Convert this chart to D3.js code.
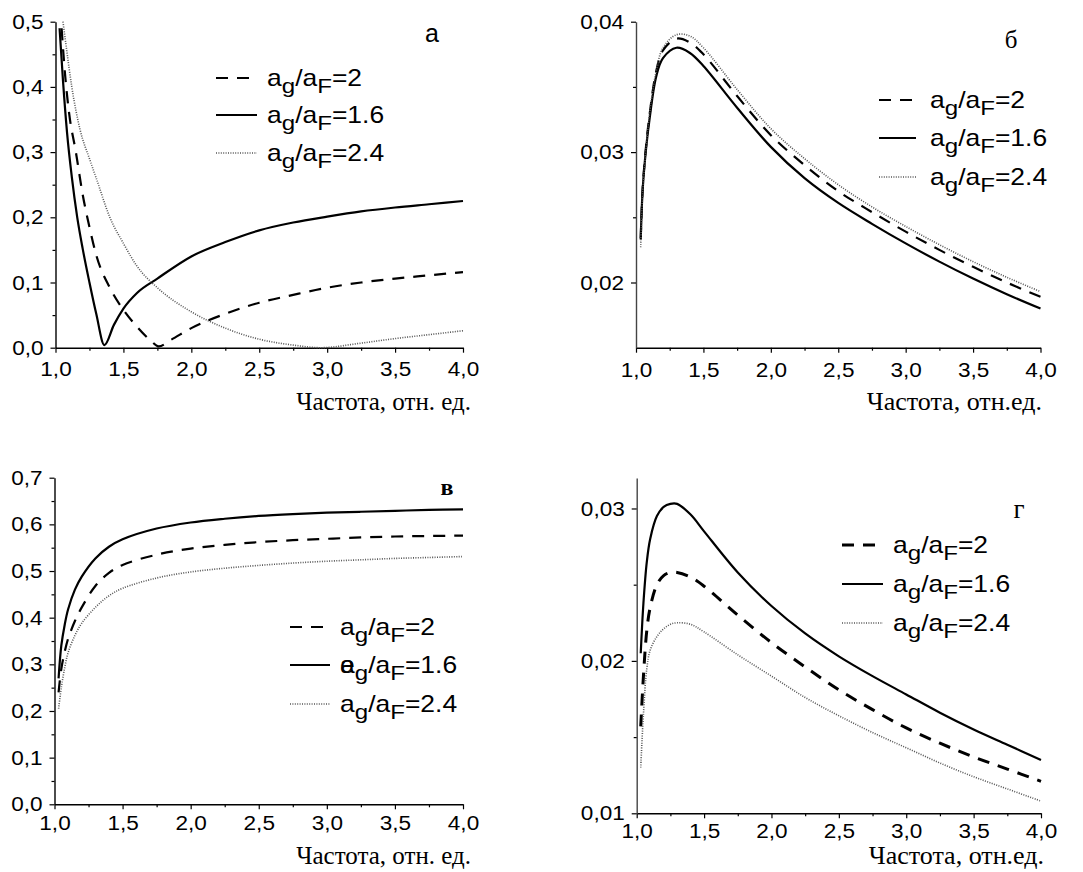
<!DOCTYPE html>
<html>
<head>
<meta charset="utf-8">
<script src="https://cdn.jsdelivr.net/npm/d3@7"></script>
<style>
  body { margin: 0; background: #fff; }
</style>
</head>
<body>
<div id="chart"></div>
<script>
// ---- data: panel а ----
const aSolidX = [1.03, 1.055, 1.085, 1.12, 1.16, 1.2, 1.25, 1.3, 1.36, 1.43, 1.5, 1.6, 1.75, 2.0, 2.25, 2.5, 2.75, 3.0, 3.25, 3.5, 3.75, 4.0];
const aSolidY = [0.49, 0.41, 0.33, 0.262, 0.2, 0.152, 0.1, 0.052, 0.004, 0.035, 0.06, 0.084, 0.106, 0.14, 0.162, 0.18, 0.192, 0.201, 0.209, 0.215, 0.22, 0.225];
const aDashX = [1.045, 1.07, 1.1, 1.15, 1.2, 1.25, 1.3, 1.4, 1.5, 1.6, 1.7, 1.76, 1.85, 2.0, 2.25, 2.5, 2.75, 3.0, 3.25, 3.5, 3.75, 4.0];
const aDashY = [0.49, 0.42, 0.36, 0.3, 0.235, 0.185, 0.142, 0.092, 0.058, 0.032, 0.011, 0.002, 0.012, 0.03, 0.052, 0.069, 0.081, 0.092, 0.1, 0.106, 0.111, 0.116];
const aDotX = [1.055, 1.08, 1.12, 1.18, 1.25, 1.3, 1.4, 1.5, 1.6, 1.75, 2.0, 2.25, 2.5, 2.75, 2.95, 3.25, 3.5, 3.75, 4.0];
const aDotY = [0.5, 0.46, 0.4, 0.335, 0.29, 0.26, 0.2, 0.16, 0.125, 0.092, 0.055, 0.03, 0.013, 0.004, 0.0, 0.007, 0.014, 0.02, 0.026];

// ---- data: panel б ----
const bX = [1.035, 1.05, 1.075, 1.1, 1.15, 1.2, 1.3, 1.4, 1.5, 1.75, 2.0, 2.25, 2.5, 2.75, 3.0, 3.25, 3.5, 3.75, 4.0];
const bSolid = [0.0234, 0.0272, 0.0303, 0.0325, 0.0358, 0.0372, 0.038, 0.0376, 0.0366, 0.0334, 0.0304, 0.028, 0.0261, 0.0245, 0.023, 0.0216, 0.0203, 0.0191, 0.018];
const bDash = [0.0233, 0.0273, 0.0305, 0.0328, 0.0362, 0.0378, 0.0387, 0.0384, 0.0375, 0.0343, 0.0313, 0.029, 0.027, 0.0254, 0.0239, 0.0225, 0.0212, 0.02, 0.0189];
const bDot = [0.0227, 0.027, 0.0303, 0.0329, 0.0362, 0.038, 0.039, 0.0389, 0.038, 0.0348, 0.0318, 0.0295, 0.0275, 0.0258, 0.0243, 0.0229, 0.0216, 0.0204, 0.0193];

// ---- data: panel в ----
const cX = [1.03, 1.05, 1.075, 1.1, 1.15, 1.2, 1.3, 1.4, 1.5, 1.75, 2.0, 2.25, 2.5, 2.75, 3.0, 3.25, 3.5, 3.75, 4.0];
const cSolid = [0.27, 0.34, 0.385, 0.418, 0.46, 0.488, 0.527, 0.552, 0.568, 0.591, 0.604, 0.612, 0.618, 0.622, 0.625, 0.627, 0.629, 0.631, 0.632];
const cDash = [0.24, 0.29, 0.327, 0.355, 0.393, 0.422, 0.468, 0.496, 0.513, 0.535, 0.548, 0.556, 0.562, 0.566, 0.569, 0.572, 0.574, 0.575, 0.576];
const cDot = [0.205, 0.25, 0.293, 0.325, 0.362, 0.388, 0.422, 0.447, 0.463, 0.485, 0.498, 0.506, 0.512, 0.517, 0.521, 0.524, 0.527, 0.529, 0.531];

// ---- data: panel г ----
const dX = [1.03, 1.05, 1.075, 1.1, 1.15, 1.2, 1.25, 1.3, 1.4, 1.5, 1.75, 2.0, 2.25, 2.5, 2.75, 3.0, 3.25, 3.5, 3.75, 4.0];
const dSolid = [0.0205, 0.0238, 0.0265, 0.028, 0.0295, 0.0301, 0.0303, 0.0303, 0.0296, 0.0285, 0.0258, 0.0236, 0.0218, 0.0203, 0.019, 0.0178, 0.0166, 0.0155, 0.0145, 0.0135];
const dDash = [0.0157, 0.019, 0.022, 0.0235, 0.025, 0.0256, 0.0258, 0.0258, 0.0255, 0.0249, 0.023, 0.0212, 0.0196, 0.0181, 0.0168, 0.0156, 0.0146, 0.0137, 0.0129, 0.0121];
const dDot = [0.013, 0.0165, 0.0195, 0.0207, 0.0216, 0.0221, 0.0224, 0.0225, 0.0224, 0.0219, 0.0204, 0.019, 0.0176, 0.0164, 0.0153, 0.0143, 0.0133, 0.0124, 0.0116, 0.0108];

// ---- ticks and labels ----
const xTicks = [1, 1.5, 2, 2.5, 3, 3.5, 4];
const xMinor = [1.25, 1.75, 2.25, 2.75, 3.25, 3.75];
const aYTicks = [0, 0.1, 0.2, 0.3, 0.4, 0.5];
const aYMinor = [0.05, 0.15, 0.25, 0.35, 0.45];
const bYTicks = [0.02, 0.03, 0.04];
const bYMinor = [0.025, 0.035];
const cYTicks = [0, 0.1, 0.2, 0.3, 0.4, 0.5, 0.6, 0.7];
const cYMinor = [0.05, 0.15, 0.25, 0.35, 0.45, 0.55, 0.65];
const dYTicks = [0.01, 0.02, 0.03];
const dYMinor = [0.015, 0.025];
const ratioLabels = ["2", "1.6", "2.4"];   // legend order: dashed, solid, dotted
const panelLetters = ["а", "б", "в", "г"];
const xTitles = ["Частота, отн. ед.", "Частота, отн.ед.", "Частота, отн. ед.", "Частота, отн.ед."];

const W = 1083, H = 872;
const SANS = "'Liberation Sans', Arial, sans-serif";
const SERIF = "'Liberation Serif', 'Times New Roman', serif";

const svg = d3.select("#chart").append("svg")
  .attr("width", W).attr("height", H)
  .style("background", "#fff");

const zip = (xs, ys) => xs.map((x, i) => [x, ys[i]]);

const lineStyles = {
  dash: { stroke: "#000", width: 2.2, dash: "12,9" },
  solid: { stroke: "#000", width: 2.2, dash: null },
  dot: { stroke: "#555", width: 1.6, dash: "1,1.4" }
};

const panels = [
  {
    left: 55.5, right: 463, top: 21.7, bottom: 347.7, yDomain: [0, 0.5],
    yTicks: aYTicks, yMinor: aYMinor, fmt: ".1f", xLabelY: 14, yAxisColor: "#000",
    curve: d3.curveMonotoneX,
    series: [["dash", zip(aDashX, aDashY)], ["solid", zip(aSolidX, aSolidY)], ["dot", zip(aDotX, aDotY)]],
    legend: { x0: 216, x1: 257, tx: 267, rows: [78, 115, 153] },
    letter: { x: 432, y: 42, font: SANS, size: 25, weight: "normal" },
    title: { x: 471, y: 410, size: 25 }
  },
  {
    left: 636, right: 1040.5, top: 21.7, bottom: 347.7, yDomain: [0.015, 0.04],
    yTicks: bYTicks, yMinor: bYMinor, fmt: ".2f", xLabelY: 15, yAxisColor: "#444",
    curve: d3.curveCatmullRom.alpha(0.5),
    series: [["dash", zip(bX, bDash)], ["solid", zip(bX, bSolid)], ["dot", zip(bX, bDot)]],
    legend: { x0: 879, x1: 916, tx: 930, rows: [100, 138, 177] },
    letter: { x: 1011, y: 48, font: SERIF, size: 25, weight: "normal" },
    title: { x: 1042, y: 410, size: 26 }
  },
  {
    left: 54.5, right: 463, top: 477.7, bottom: 804.3, yDomain: [0, 0.7],
    yTicks: cYTicks, yMinor: cYMinor, fmt: ".1f", xLabelY: 11, yAxisColor: "#000",
    curve: d3.curveCatmullRom.alpha(0.5),
    series: [["dash", zip(cX, cDash)], ["solid", zip(cX, cSolid)], ["dot", zip(cX, cDot)]],
    legend: { x0: 290, x1: 330, tx: 340, rows: [627, 665, 704] },
    letter: { x: 447, y: 495, font: SERIF, size: 24, weight: "bold" },
    title: { x: 471, y: 864, size: 25 },
    glitch: true
  },
  {
    left: 636.7, right: 1041, top: 478, bottom: 813.3, yDomain: [0.01, 0.032],
    yTicks: dYTicks, yMinor: dYMinor, fmt: ".2f", xLabelY: 10, yAxisColor: "#444",
    curve: d3.curveCatmullRom.alpha(0.5),
    series: [["dash", zip(dX, dDash)], ["solid", zip(dX, dSolid)], ["dot", zip(dX, dDot)]],
    legend: { x0: 842, x1: 883, tx: 893, rows: [545, 584, 623] },
    letter: { x: 1019, y: 518, font: SERIF, size: 27, weight: "normal" },
    title: { x: 1044, y: 864, size: 26 },
    thickDash: true
  }
];

panels.forEach((p, pi) => {
  const g = svg.append("g");
  const x = d3.scaleLinear().domain([1, 4]).range([p.left, p.right]);
  const y = d3.scaleLinear().domain(p.yDomain).range([p.bottom, p.top]);
  const fmt = v => d3.format(p.fmt)(v).replace(".", ",");

  // x axis
  const gx = g.append("g").attr("transform", `translate(0,${p.bottom})`);
  gx.call(d3.axisBottom(x).tickValues(xTicks).tickSize(5).tickSizeOuter(0).tickFormat(d => d3.format(".1f")(d).replace(".", ",")));
  gx.append("g").call(d3.axisBottom(x).tickValues(xMinor).tickSize(3).tickSizeOuter(0).tickFormat(""))
    .select(".domain").remove();
  // y axis
  const gy = g.append("g").attr("transform", `translate(${p.left},0)`);
  gy.call(d3.axisLeft(y).tickValues(p.yTicks).tickSize(5).tickSizeOuter(0).tickFormat(fmt));
  gy.append("g").call(d3.axisLeft(y).tickValues(p.yMinor).tickSize(3).tickSizeOuter(0).tickFormat(""))
    .select(".domain").remove();

  g.selectAll(".domain").attr("stroke", "#000").attr("stroke-width", 1.4);
  gy.select(".domain").attr("stroke", p.yAxisColor);
  g.selectAll(".tick line").attr("stroke", "#000").attr("stroke-width", 1.2);

  gx.selectAll(".tick text")
    .attr("y", p.xLabelY).attr("dy", "0.71em")
    .attr("transform", "scale(1.1,1)");
  gy.selectAll(".tick text")
    .attr("x", -12 / 1.1)
    .attr("transform", "scale(1.1,1)");
  g.selectAll(".tick text")
    .attr("fill", "#000")
    .style("font-family", SANS)
    .style("font-size", "20.5px");

  // curves
  const line = d3.line().x(d => x(d[0])).y(d => y(d[1])).curve(p.curve);
  p.series.forEach(([key, pts]) => {
    const s = lineStyles[key];
    g.append("path")
      .datum(pts)
      .attr("d", line)
      .attr("fill", "none")
      .attr("stroke", s.stroke)
      .attr("stroke-width", key === "dash" && p.thickDash ? 3 : s.width)
      .attr("stroke-dasharray", s.dash)
      .attr("stroke-linejoin", "round");
  });

  // legend
  ["dash", "solid", "dot"].forEach((key, i) => {
    const s = lineStyles[key];
    const ly = p.legend.rows[i];
    g.append("line")
      .attr("x1", p.legend.x0).attr("x2", p.legend.x1)
      .attr("y1", ly).attr("y2", ly)
      .attr("stroke", s.stroke)
      .attr("stroke-width", key === "dash" && p.thickDash ? 3 : s.width)
      .attr("stroke-dasharray", s.dash);
    const t = g.append("text")
      .attr("transform", `translate(${p.legend.tx},${ly + 8}) scale(1.15,1)`)
      .style("font-family", SANS)
      .style("font-size", "23px")
      .attr("fill", "#000");
    t.append("tspan").text("a");
    t.append("tspan").attr("dy", 7).style("font-size", "21px").text("g");
    t.append("tspan").attr("dy", -7).text("/a");
    t.append("tspan").attr("dy", 7).style("font-size", "21px").text("F");
    t.append("tspan").attr("dy", -7).text("=" + ratioLabels[i]);
    if (p.glitch && key === "solid") {
      g.append("text")
        .attr("transform", `translate(${p.legend.tx},${ly + 8}) scale(1.15,1)`)
        .style("font-family", SANS)
        .style("font-size", "23px")
        .attr("fill", "#000")
        .text("e");
    }
  });

  // panel letter
  g.append("text")
    .attr("x", p.letter.x).attr("y", p.letter.y)
    .attr("text-anchor", "middle")
    .style("font-family", p.letter.font)
    .style("font-size", p.letter.size + "px")
    .style("font-weight", p.letter.weight)
    .text(panelLetters[pi]);

  // x title
  g.append("text")
    .attr("x", p.title.x).attr("y", p.title.y)
    .attr("text-anchor", "end")
    .style("font-family", SERIF)
    .style("font-size", p.title.size + "px")
    .attr("fill", "#000")
    .text(xTitles[pi]);
});
</script>
</body>
</html>
